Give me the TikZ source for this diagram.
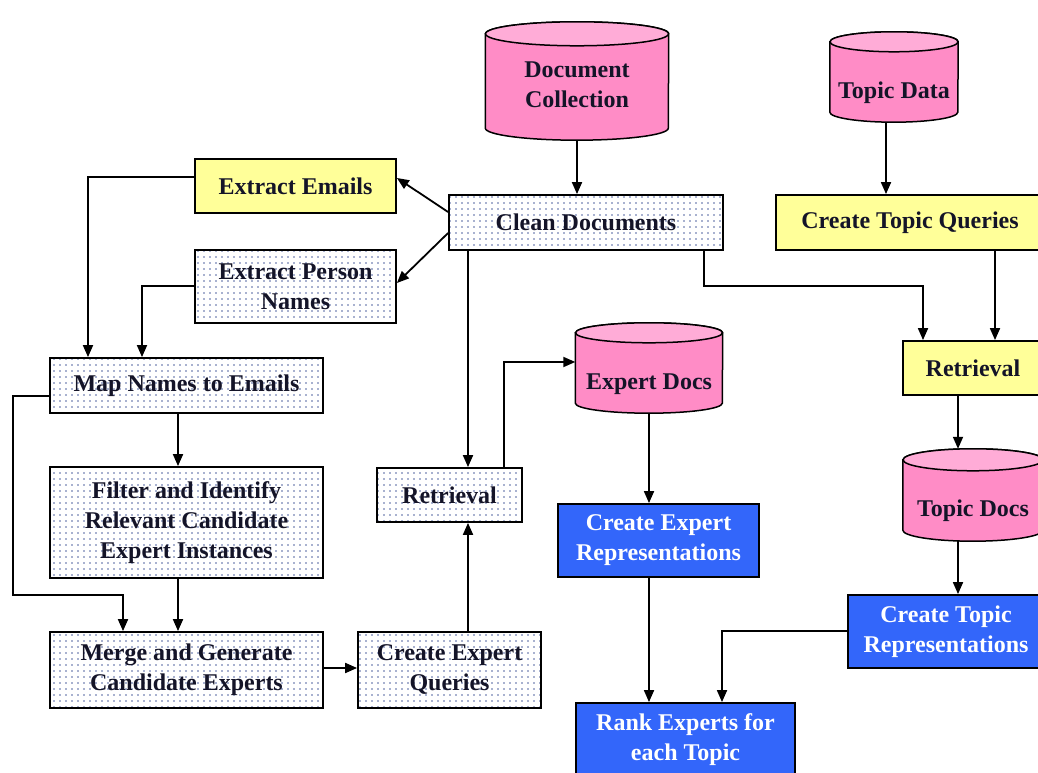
\documentclass[tikz,border=0pt]{standalone}
\usepackage{fontspec}
\setmainfont{Liberation Serif}
\usetikzlibrary{arrows.meta,patterns.meta,calc}
\definecolor{yelc}{RGB}{255,255,153}
\definecolor{pinkb}{RGB}{255,140,198}
\definecolor{pinkt}{RGB}{255,172,215}
\definecolor{bluec}{RGB}{51,102,250}
\definecolor{dotc}{RGB}{80,100,160}
\definecolor{txtc}{RGB}{20,20,40}
\newcommand\cylpaint[3]{%
  \filldraw[fill=pinkb, line width=1.5pt] ([yshift=-#3pt]#1.north west) -- ([yshift=#3pt]#1.south west)
    arc[start angle=180, end angle=360, x radius=#2pt, y radius=#3pt]
    -- ([yshift=-#3pt]#1.north east)
    arc[start angle=0, end angle=180, x radius=#2pt, y radius=#3pt] -- cycle;
  \filldraw[fill=pinkt, line width=1.5pt] ([yshift=-#3pt]#1.north) ellipse[x radius=#2pt, y radius=#3pt];
}
\tikzset{
  box/.style={draw=black, line width=1.8pt, inner sep=0pt, align=center,
    font=\fontsize{24}{30}\selectfont\bfseries, text=txtc},
  yelbox/.style={box, fill=yelc},
  dotbox/.style={box, pattern={Dots[distance=6pt, radius=0.85pt]}, pattern color=dotc},
  bluebox/.style={box, fill=bluec, text=white},
  cylbox/.style={draw=none, inner sep=0pt},
  cyltext/.style={inner sep=0pt, align=center, anchor=base,
    font=\fontsize{24}{30}\selectfont\bfseries, text=txtc},
  arr/.style={line width=1.8pt, -{Triangle[length=12pt, width=10pt]}}
}
\begin{document}
\begin{tikzpicture}[x=1pt, y=1pt]
\useasboundingbox (0,0) rectangle (1038,773);
\clip (0,0) rectangle (1038,773);

% cylinders
\node[cylbox, minimum width=183pt, minimum height=118pt] (doccoll) at (577,692) {};
\cylpaint{doccoll}{91.5}{12}
\node[cyltext] (doccollt) at (577,665) {Document\\Collection};

\node[cylbox, minimum width=147pt, minimum height=90pt] (expdocs) at (649,405) {};
\cylpaint{expdocs}{73.5}{10}
\node[cyltext] (expdocst) at (649,383) {Expert Docs};

\node[cylbox, minimum width=128pt, minimum height=90pt] (topicdata) at (894,696) {};
\cylpaint{topicdata}{64}{10}
\node[cyltext] (topicdatat) at (894,674) {Topic Data};

\node[cylbox, minimum width=140pt, minimum height=92pt] (topicdocs) at (973,278) {};
\cylpaint{topicdocs}{70}{11}
\node[cyltext] (topicdocst) at (973,256) {Topic Docs};

% boxes
\node[yelbox, minimum width=201pt, minimum height=54pt] (ee) at (295.5,587) {Extract Emails};
\node[dotbox, minimum width=201pt, minimum height=73pt] (epn) at (295.5,486.5) {Extract Person\\Names};
\node[dotbox, minimum width=273pt, minimum height=55pt] (map) at (186.5,387.5) {Map Names to Emails};
\node[dotbox, minimum width=273pt, minimum height=111pt] (filter) at (186.5,250.5) {Filter and Identify\\Relevant Candidate\\Expert Instances};
\node[dotbox, minimum width=273pt, minimum height=76pt] (merge) at (186.5,103) {Merge and Generate\\Candidate Experts};
\node[dotbox, minimum width=183pt, minimum height=76pt] (ceq) at (449.5,103) {Create Expert\\Queries};
\node[dotbox, minimum width=145pt, minimum height=54pt] (ret1) at (449.5,278) {Retrieval};
\node[dotbox, minimum width=274pt, minimum height=55pt] (clean) at (586,550.5) {Clean Documents};
\node[bluebox, minimum width=201pt, minimum height=73pt] (cer) at (658.5,232.5) {Create Expert\\Representations};
\node[bluebox, minimum width=219pt, minimum height=74pt] (rank) at (685.5,33) {Rank Experts for\\each Topic};
\node[yelbox, minimum width=268pt, minimum height=55pt] (ctq) at (910,550.5) {Create Topic Queries};
\node[yelbox, minimum width=140pt, minimum height=54pt] (ret2) at (973,405) {Retrieval};
\node[bluebox, minimum width=196pt, minimum height=73pt] (ctr) at (946,141.5) {Create Topic\\Representations};

% bend points
\coordinate (lb1) at (13,178);
\coordinate (lb2) at (800,487);

% connectors
\draw[arr] (doccoll.south) -- (doccoll.south |- clean.north);
\draw[arr] ([yshift=10.5pt]clean.west) -- ([yshift=8pt]ee.east);
\draw[arr] ([yshift=-10.5pt]clean.west) -- ([yshift=3.5pt]epn.east);
\draw[arr] ([yshift=9pt]ee.west) -| ([xshift=-98.5pt]map.north);
\draw[arr] ([yshift=0.5pt]epn.west) -| ([xshift=-44.5pt]map.north);
\draw[arr] ([yshift=-10.5pt]map.west) -| (lb1) -| ([xshift=-63.5pt]merge.north);
\draw[arr] ([xshift=-8.5pt]map.south) -- ([xshift=-8.5pt]filter.north);
\draw[arr] ([xshift=-8.5pt]filter.south) -- ([xshift=-8.5pt]merge.north);
\draw[arr] ([yshift=2pt]merge.east) -- ([yshift=2pt]ceq.west);
\draw[arr] ([xshift=18.5pt]ceq.north) -- ([xshift=18.5pt]ret1.south);
\draw[arr] ([xshift=-118pt]clean.south) -- ([xshift=18.5pt]ret1.north);
\draw[arr] ([xshift=54.5pt]ret1.north) |- ([yshift=6pt]expdocs.west);
\draw[arr] (expdocs.south) -- (expdocs.south |- cer.north);
\draw[arr] ([xshift=-9.5pt]cer.south) -- ([xshift=-9.5pt]cer.south |- rank.north);
\draw[arr] ([yshift=0.5pt]ctr.west) -| ([xshift=36.5pt]rank.north);
\draw[arr] ([xshift=-8pt]topicdata.south) -- ([xshift=-8pt]topicdata.south |- ctq.north);
\draw[arr] ([xshift=85pt]ctq.south) -- ([xshift=85pt]ctq.south |- ret2.north);
\draw[arr] ([xshift=118pt]clean.south) |- (lb2) -| ([xshift=-50pt]ret2.north);
\draw[arr] ([xshift=-15pt]ret2.south) -- ([xshift=-15pt]ret2.south |- topicdocs.north);
\draw[arr] ([xshift=-15pt]topicdocs.south) -- ([xshift=-15pt]topicdocs.south |- ctr.north);
\end{tikzpicture}
\end{document}
